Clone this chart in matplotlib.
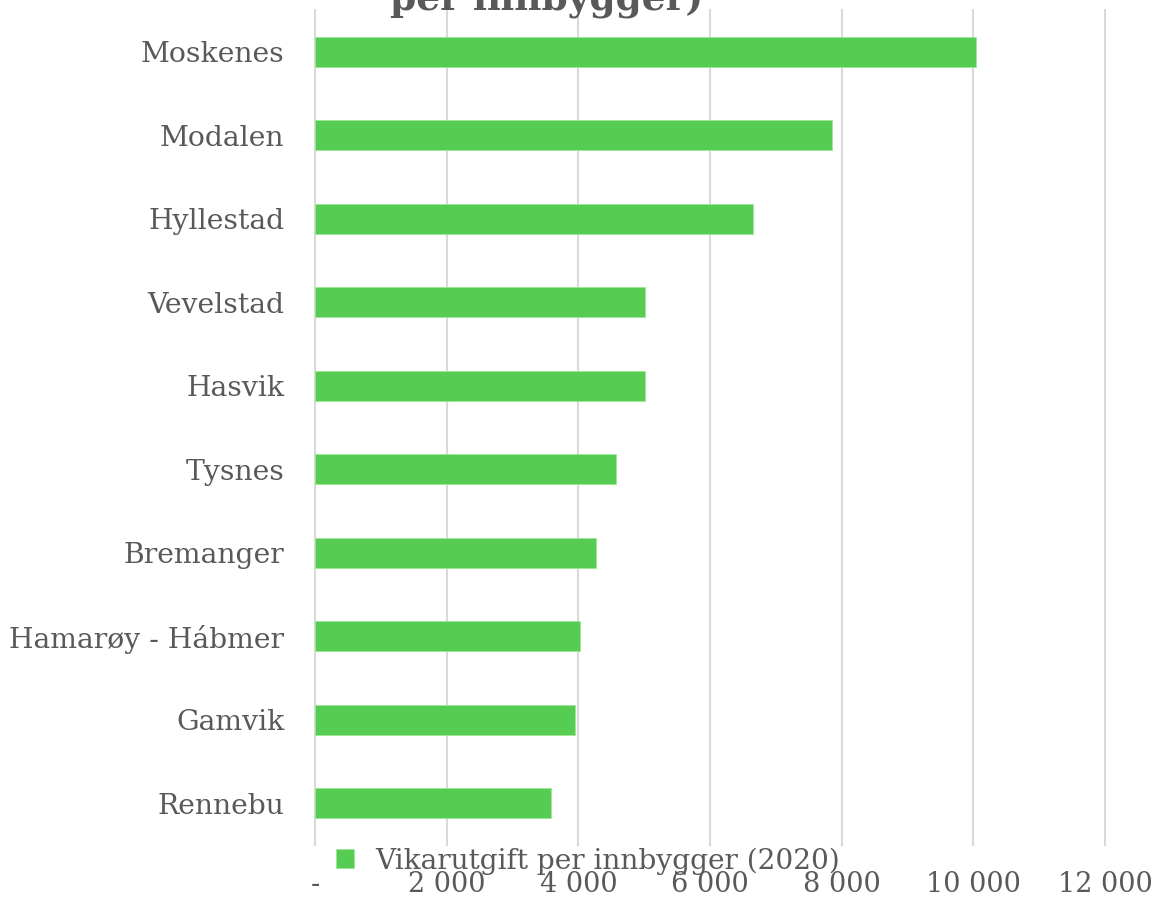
import matplotlib
matplotlib.use("Agg")
import matplotlib.pyplot as plt
from matplotlib.ticker import FixedLocator, FuncFormatter

categories = ["Moskenes", "Modalen", "Hyllestad", "Vevelstad", "Hasvik",
              "Tysnes", "Bremanger", "Hamarøy - Hábmer", "Gamvik", "Rennebu"]
values = [10045, 7857, 6657, 5011, 5010, 4579, 4271, 4032, 3951, 3587]
xticks = [0, 2000, 4000, 6000, 8000, 10000, 12000]
series_name = "Vikarutgift per innbygger (2020)"
title_visible = "per innbygger)"

GRAY = "#595959"
GREEN = "#56CD52"
FONT = "DejaVu Serif"

fig = plt.figure(figsize=(11.58, 8.99), dpi=100)
ax = fig.add_axes([315/1158, 1-845/899, (1105-315)/1158, (845-10)/899])

ypos = list(range(len(categories)))
ax.barh(ypos, values, height=0.36, color=GREEN, edgecolor="#9be897",
        linewidth=0.6, zorder=3, label=series_name)
ax.set_ylim(len(categories)-0.5, -0.5)
ax.set_xlim(0, 12000)
ax.set_yticks(ypos)
ax.set_yticklabels(categories, fontsize=20.3, color=GRAY, family=FONT)
ax.xaxis.set_major_locator(FixedLocator(xticks))
ax.xaxis.set_major_formatter(FuncFormatter(
    lambda v, p: "-" if v == 0 else f"{int(v):,}".replace(",", " ")))
for lbl in ax.get_xticklabels():
    lbl.set_fontsize(19.5)
    lbl.set_color(GRAY)
    lbl.set_family(FONT)
ax.tick_params(axis="y", length=0, pad=22)
ax.tick_params(axis="x", length=0, pad=19)
ax.grid(axis="x", color="#d9d9d9", linewidth=1.5, zorder=0)
for gl in ax.get_xgridlines():
    gl.set_clip_on(False)
for s in ax.spines.values():
    s.set_visible(False)

leg = fig.legend(loc="center left", bbox_to_anchor=(325/1158, 1-861/899),
                 frameon=False, handlelength=0.65, handleheight=0.65,
                 handletextpad=0.75, borderaxespad=0,
                 prop={"family": FONT, "size": 20.2})
for t in leg.get_texts():
    t.set_color(GRAY)

fig.text(547/1158, 1-10/899, title_visible, ha="center", va="baseline",
         fontsize=27, fontweight="bold", color=GRAY, family=FONT)

fig.savefig("out.png", dpi=100, facecolor="white")
